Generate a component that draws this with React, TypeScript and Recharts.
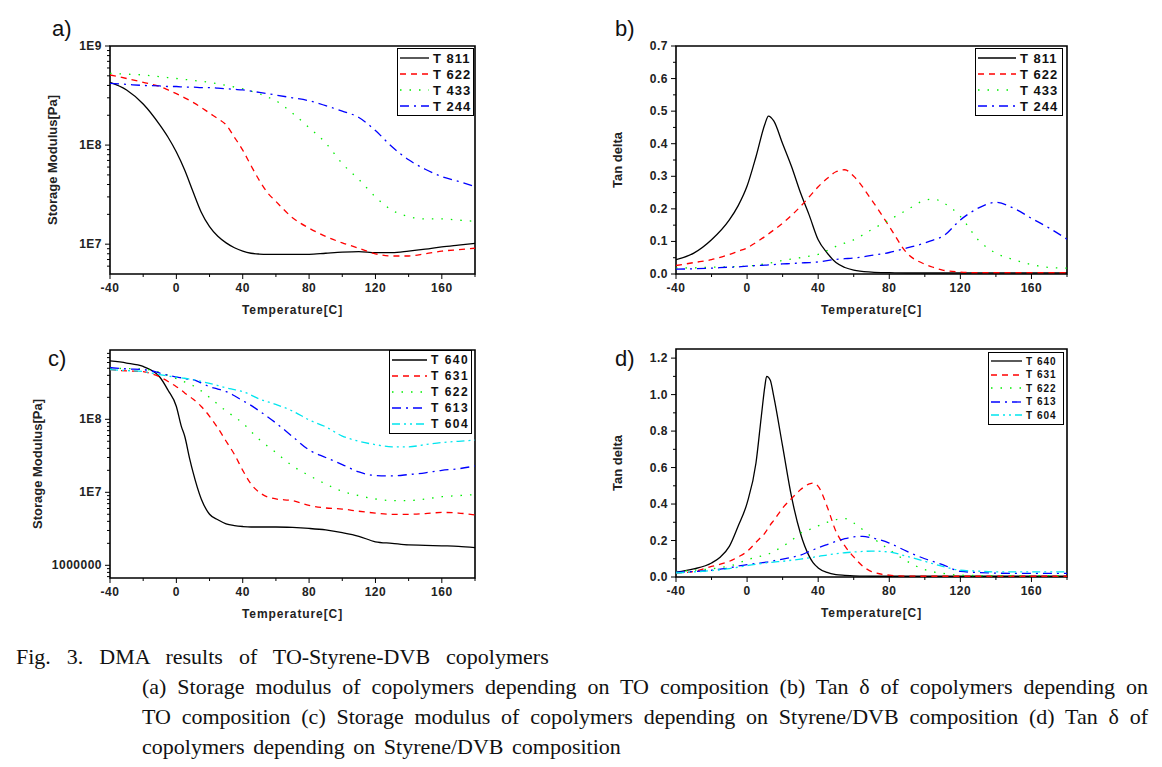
import React from 'react';
import { LineChart, Line, XAxis, YAxis, ReferenceArea } from 'recharts';

// ---------- data: (a) storage modulus vs TO composition ----------
const tempsA = [-40, -30, -20, -10, -5, 0, 5, 10, 15, 20, 25, 30, 35, 40, 45, 50, 55, 60, 70, 80, 90, 100, 110, 120, 130, 140, 150, 160, 170, 180];
const modA811 = [4.3e8, 3.6e8, 2.6e8, 1.6e8, 1.2e8, 8.5e7, 5.6e7, 3.4e7, 2.1e7, 1.5e7, 1.2e7, 1.03e7, 9.2e6, 8.5e6, 8.1e6, 7.95e6, 7.9e6, 7.9e6, 7.9e6, 7.9e6, 8.1e6, 8.3e6, 8.4e6, 8.2e6, 8.2e6, 8.5e6, 8.9e6, 9.4e6, 9.8e6, 1.02e7];
const modA622 = [5.1e8, 4.7e8, 4.3e8, 3.9e8, 3.6e8, 3.3e8, 3.0e8, 2.7e8, 2.4e8, 2.1e8, 1.85e8, 1.6e8, 1.2e8, 8.9e7, 6.2e7, 4.4e7, 3.3e7, 2.7e7, 1.85e7, 1.45e7, 1.2e7, 1.03e7, 9.1e6, 8.0e6, 7.6e6, 7.6e6, 8.0e6, 8.5e6, 8.8e6, 9.1e6];
const modA433 = [5.3e8, 5.2e8, 5.1e8, 4.9e8, 4.8e8, 4.7e8, 4.6e8, 4.5e8, 4.4e8, 4.3e8, 4.15e8, 4.0e8, 3.85e8, 3.7e8, 3.5e8, 3.3e8, 3.05e8, 2.8e8, 2.1e8, 1.5e8, 1.05e8, 6.5e7, 4.5e7, 3.0e7, 2.2e7, 1.9e7, 1.8e7, 1.8e7, 1.75e7, 1.7e7];
const modA244 = [4.2e8, 4.1e8, 4.0e8, 3.95e8, 3.9e8, 3.9e8, 3.85e8, 3.85e8, 3.8e8, 3.8e8, 3.75e8, 3.7e8, 3.65e8, 3.6e8, 3.5e8, 3.4e8, 3.3e8, 3.2e8, 3.0e8, 2.8e8, 2.5e8, 2.2e8, 1.9e8, 1.4e8, 9.6e7, 7.1e7, 5.7e7, 4.8e7, 4.3e7, 3.8e7];

// ---------- data: (b) tan delta vs TO composition ----------
const tempsB = [-40, -30, -20, -10, -5, 0, 5, 10, 12, 15, 20, 25, 30, 35, 40, 45, 50, 55, 60, 70, 80, 90, 100, 105, 110, 120, 130, 140, 150, 160, 170, 180];
const tanB811 = [0.044, 0.064, 0.105, 0.166, 0.21, 0.27, 0.36, 0.46, 0.485, 0.47, 0.4, 0.33, 0.25, 0.18, 0.105, 0.065, 0.035, 0.02, 0.012, 0.006, 0.004, 0.003, 0.003, 0.003, 0.003, 0.003, 0.003, 0.003, 0.003, 0.003, 0.003, 0.003];
const tanB622 = [0.026, 0.035, 0.044, 0.06, 0.07, 0.08, 0.097, 0.115, 0.123, 0.135, 0.156, 0.18, 0.207, 0.237, 0.268, 0.293, 0.314, 0.32, 0.3, 0.228, 0.146, 0.064, 0.03, 0.02, 0.012, 0.006, 0.004, 0.004, 0.004, 0.004, 0.004, 0.004];
const tanB433 = [0.018, 0.019, 0.021, 0.022, 0.023, 0.024, 0.027, 0.031, 0.033, 0.036, 0.042, 0.046, 0.05, 0.055, 0.06, 0.072, 0.085, 0.095, 0.105, 0.136, 0.166, 0.197, 0.226, 0.23, 0.22, 0.177, 0.105, 0.064, 0.044, 0.029, 0.02, 0.018];
const tanB244 = [0.015, 0.016, 0.018, 0.021, 0.022, 0.024, 0.026, 0.027, 0.028, 0.029, 0.031, 0.032, 0.034, 0.035, 0.037, 0.041, 0.045, 0.047, 0.049, 0.057, 0.066, 0.08, 0.095, 0.105, 0.115, 0.166, 0.202, 0.22, 0.202, 0.171, 0.141, 0.107];

// ---------- data: (c) storage modulus vs Styrene/DVB ----------
const tempsC = [-40, -30, -20, -15, -10, -5, 0, 3, 5, 8, 10, 15, 20, 25, 30, 35, 40, 45, 50, 60, 70, 80, 90, 100, 110, 120, 130, 140, 150, 160, 170, 180];
const modC640 = [6.3e8, 5.9e8, 5.3e8, 4.7e8, 3.8e8, 2.5e8, 1.5e8, 8e7, 5.9e7, 2.9e7, 1.9e7, 8.1e6, 5e6, 4.2e6, 3.7e6, 3.5e6, 3.4e6, 3.35e6, 3.35e6, 3.35e6, 3.3e6, 3.2e6, 3.05e6, 2.8e6, 2.5e6, 2.1e6, 2.0e6, 1.9e6, 1.88e6, 1.85e6, 1.82e6, 1.75e6];
const modC631 = [4.8e8, 4.6e8, 4.5e8, 4.2e8, 3.8e8, 3.3e8, 2.8e8, 2.5e8, 2.3e8, 2.05e8, 1.9e8, 1.5e8, 1.1e8, 7.6e7, 5e7, 3.3e7, 2e7, 1.3e7, 1e7, 8.1e6, 7.7e6, 6.6e6, 6.1e6, 5.9e6, 5.5e6, 5.2e6, 5.0e6, 5.0e6, 5.1e6, 5.3e6, 5.2e6, 4.9e6];
const modC622 = [5e8, 4.95e8, 4.9e8, 4.7e8, 4.4e8, 4.0e8, 3.6e8, 3.4e8, 3.25e8, 3.0e8, 2.9e8, 2.45e8, 2e8, 1.6e8, 1.3e8, 1.08e8, 8.9e7, 6.8e7, 5.3e7, 3.5e7, 2.3e7, 1.7e7, 1.3e7, 1.03e7, 9e6, 8.1e6, 7.7e6, 7.7e6, 8.1e6, 8.7e6, 9.0e6, 9.3e6];
const modC613 = [5.1e8, 4.9e8, 4.8e8, 4.6e8, 4.3e8, 4.0e8, 3.8e8, 3.7e8, 3.6e8, 3.55e8, 3.5e8, 3.15e8, 2.8e8, 2.6e8, 2.4e8, 2.1e8, 1.8e8, 1.55e8, 1.3e8, 8.9e7, 5.8e7, 3.8e7, 3e7, 2.4e7, 1.9e7, 1.7e7, 1.68e7, 1.75e7, 1.85e7, 2e7, 2.1e7, 2.3e7];
const modC604 = [4.8e8, 4.65e8, 4.5e8, 4.3e8, 4.1e8, 3.9e8, 3.8e8, 3.7e8, 3.65e8, 3.55e8, 3.5e8, 3.3e8, 3.1e8, 2.9e8, 2.7e8, 2.55e8, 2.4e8, 2.15e8, 1.9e8, 1.6e8, 1.3e8, 9.8e7, 7.9e7, 5.9e7, 5e7, 4.5e7, 4.2e7, 4.2e7, 4.5e7, 4.8e7, 5e7, 5.2e7];

// ---------- data: (d) tan delta vs Styrene/DVB ----------
const tempsD = [-40, -30, -20, -15, -10, -5, 0, 5, 8, 10, 11, 13, 15, 20, 25, 30, 35, 37, 40, 45, 50, 55, 60, 65, 70, 80, 90, 100, 110, 120, 130, 140, 150, 160, 170, 180];
const tanD640 = [0.026, 0.044, 0.077, 0.11, 0.168, 0.28, 0.405, 0.625, 0.88, 1.045, 1.1, 1.08, 0.99, 0.716, 0.44, 0.24, 0.113, 0.08, 0.05, 0.025, 0.013, 0.009, 0.006, 0.005, 0.004, 0.004, 0.004, 0.004, 0.004, 0.004, 0.004, 0.004, 0.004, 0.004, 0.004, 0.004];
const tanD631 = [0.022, 0.03, 0.058, 0.07, 0.086, 0.11, 0.14, 0.19, 0.22, 0.24, 0.255, 0.285, 0.31, 0.378, 0.43, 0.478, 0.51, 0.515, 0.497, 0.387, 0.25, 0.17, 0.11, 0.06, 0.03, 0.01, 0.005, 0.004, 0.004, 0.004, 0.004, 0.004, 0.004, 0.004, 0.004, 0.004];
const tanD622 = [0.03, 0.037, 0.045, 0.052, 0.06, 0.075, 0.095, 0.107, 0.115, 0.12, 0.122, 0.13, 0.14, 0.168, 0.2, 0.24, 0.26, 0.265, 0.28, 0.3, 0.315, 0.32, 0.296, 0.26, 0.22, 0.15, 0.086, 0.04, 0.02, 0.01, 0.008, 0.008, 0.008, 0.008, 0.008, 0.008];
const tanD613 = [0.026, 0.03, 0.037, 0.043, 0.05, 0.06, 0.068, 0.074, 0.078, 0.08, 0.082, 0.085, 0.089, 0.098, 0.108, 0.12, 0.14, 0.148, 0.16, 0.178, 0.195, 0.21, 0.22, 0.223, 0.215, 0.186, 0.14, 0.1, 0.068, 0.031, 0.025, 0.021, 0.02, 0.02, 0.02, 0.02];
const tanD604 = [0.022, 0.028, 0.035, 0.04, 0.046, 0.054, 0.062, 0.07, 0.074, 0.077, 0.078, 0.08, 0.082, 0.086, 0.092, 0.098, 0.105, 0.108, 0.113, 0.12, 0.128, 0.133, 0.137, 0.14, 0.142, 0.137, 0.113, 0.086, 0.058, 0.037, 0.032, 0.028, 0.028, 0.028, 0.028, 0.028];

// ---------- tick lists ----------
const tempTicks = [-40, -20, 0, 20, 40, 60, 80, 100, 120, 140, 160, 180];
const tempLabels = [-40, 0, 40, 80, 120, 160];
const logTicksA = [6e6, 7e6, 8e6, 9e6, 1e7, 2e7, 3e7, 4e7, 5e7, 6e7, 7e7, 8e7, 9e7, 1e8, 2e8, 3e8, 4e8, 5e8, 6e8, 7e8, 8e8, 9e8, 1e9];
const logLabelsA = [1e7, 1e8, 1e9];
const logTicksC = [7e5, 8e5, 9e5, 1e6, 2e6, 3e6, 4e6, 5e6, 6e6, 7e6, 8e6, 9e6, 1e7, 2e7, 3e7, 4e7, 5e7, 6e7, 7e7, 8e7, 9e7, 1e8, 2e8, 3e8, 4e8, 5e8, 6e8, 7e8, 8e8];
const logLabelsC = [1e6, 1e7, 1e8];
const tanTicksB = [0, 0.05, 0.1, 0.15, 0.2, 0.25, 0.3, 0.35, 0.4, 0.45, 0.5, 0.55, 0.6, 0.65, 0.7];
const tanLabelsB = [0, 0.1, 0.2, 0.3, 0.4, 0.5, 0.6, 0.7];
const tanTicksD = [0, 0.1, 0.2, 0.3, 0.4, 0.5, 0.6, 0.7, 0.8, 0.9, 1.0, 1.1, 1.2];
const tanLabelsD = [0, 0.2, 0.4, 0.6, 0.8, 1.0, 1.2];

const captionTitle = 'Fig. 3. DMA results of TO-Styrene-DVB copolymers';
const captionBody = [
    '(a) Storage modulus of copolymers depending on TO composition (b) Tan δ of copolymers depending on',
    'TO composition (c) Storage modulus of copolymers depending on Styrene/DVB composition (d) Tan δ of',
    'copolymers depending on Styrene/DVB composition',
];

// line styles
const BLACK = { color: '#000000', dash: undefined };
const RED = { color: '#ff0000', dash: '6 5' };
const GREEN = { color: '#00ee00', dash: '1.5 8' };
const BLUE = { color: '#0000ff', dash: '9 5 2 5' };
const CYAN = { color: '#00e5ee', dash: '8 4 2 4 2 4' };

type Series = { name: string; values: number[]; color: string; dash?: string };

const buildRows = (temps: number[], series: Series[]) =>
    temps.map((t, i) => {
        const row: Record<string, number> = { t };
        series.forEach((s) => { row[s.name] = s.values[i]; });
        return row;
    });

const isIn = (v: number, list: number[]) => list.some((l) => Math.abs(l - v) < Math.abs(l) * 1e-6 + 1e-9);

const sansBold = { fontFamily: '"Liberation Sans", Arial, sans-serif', fontWeight: 700 };

const XTick = ({ x, y, payload }: any) => {
    const v = payload.value;
    const major = isIn(v, tempLabels);
    return (
        <g>
            <line x1={x} x2={x} y1={y} y2={y + (major ? 5 : 3)} stroke="#000" strokeWidth={1} />
            {major && (
                <text x={x} y={y + 18} textAnchor="middle" fontSize={12} letterSpacing={0.5} fill="#222" style={sansBold}>
                    {v}
                </text>
            )}
        </g>
    );
};

const makeYTick = (labels: number[], fmt: (v: number) => string) => ({ x, y, payload }: any) => {
    const v = payload.value;
    const major = isIn(v, labels);
    return (
        <g>
            <line x1={x} x2={x - (major ? 5 : 3)} y1={y} y2={y} stroke="#000" strokeWidth={1} />
            {major && (
                <text x={x - 8} y={y + 4} textAnchor="end" fontSize={12} letterSpacing={0.5} fill="#222" style={sansBold}>
                    {fmt(v)}
                </text>
            )}
        </g>
    );
};

const fmtLog = (v: number) => (v >= 1e7 ? `1E${Math.round(Math.log10(v))}` : String(Math.round(v)));
const fmtTan = (v: number) => v.toFixed(1);

interface PanelProps {
    letter: string;
    left: number;
    top: number;
    width: number;
    height: number;
    marginTop: number;
    marginRight: number;
    yAxisWidth: number;
    xAxisHeight: number;
    temps: number[];
    series: Series[];
    yScale: 'log' | 'linear';
    yDomain: [number, number];
    yTicks: number[];
    yLabels: number[];
    yFmt: (v: number) => string;
    yTitle: string;
    yTitleX: number;
    letterPos: [number, number];
    legend: { left: number; top: number; width: number; rowH: number; padTop: number; sample: number; fontSize: number; spacing: number };
}

const Panel: React.FC<PanelProps> = (p) => {
    const data = buildRows(p.temps, p.series);
    const YTick = makeYTick(p.yLabels, p.yFmt);
    return (
        <>
            <div style={{ position: 'absolute', left: p.left, top: p.top }}>
                <LineChart
                    width={p.width}
                    height={p.height}
                    data={data}
                    margin={{ top: p.marginTop, right: p.marginRight, left: 0, bottom: 0 }}
                >
                    <XAxis
                        dataKey="t"
                        type="number"
                        domain={[-40, 180]}
                        ticks={tempTicks}
                        interval={0}
                        height={p.xAxisHeight}
                        axisLine={false}
                        tickLine={false}
                        tickSize={0}
                        tickMargin={0}
                        tick={<XTick />}
                        allowDataOverflow
                        label={{
                            content: ({ viewBox }: any) => (
                                <text
                                    x={viewBox.x + viewBox.width / 2}
                                    y={viewBox.y + 40}
                                    textAnchor="middle"
                                    fontSize={12}
                                    letterSpacing={0.9}
                                    fill="#222"
                                    style={sansBold}
                                >
                                    Temperature[C]
                                </text>
                            ),
                        }}
                    />
                    <YAxis
                        type="number"
                        scale={p.yScale}
                        domain={p.yDomain}
                        ticks={p.yTicks}
                        interval={0}
                        width={p.yAxisWidth}
                        axisLine={false}
                        tickLine={false}
                        tickSize={0}
                        tickMargin={0}
                        tick={<YTick />}
                        allowDataOverflow
                        label={{
                            content: ({ viewBox }: any) => {
                                const cy = viewBox.y + viewBox.height / 2;
                                return (
                                    <text
                                        x={p.yTitleX}
                                        y={cy}
                                        transform={`rotate(-90, ${p.yTitleX}, ${cy})`}
                                        textAnchor="middle"
                                        dominantBaseline="central"
                                        fontSize={13}
                                        fill="#222"
                                        style={sansBold}
                                    >
                                        {p.yTitle}
                                    </text>
                                );
                            },
                        }}
                    />
                    <ReferenceArea
                        x1={-40}
                        x2={180}
                        y1={p.yDomain[0]}
                        y2={p.yDomain[1]}
                        fill="none"
                        stroke="#000"
                        strokeWidth={1.6}
                        ifOverflow="visible"
                    />
                    {p.series.map((s) => (
                        <Line
                            key={s.name}
                            dataKey={s.name}
                            type="monotone"
                            stroke={s.color}
                            strokeWidth={1.3}
                            strokeDasharray={s.dash}
                            dot={false}
                            isAnimationActive={false}
                        />
                    ))}
                </LineChart>
            </div>
            <div
                style={{
                    position: 'absolute',
                    left: p.letterPos[0],
                    top: p.letterPos[1],
                    fontFamily: '"Liberation Sans", Arial, sans-serif',
                    fontSize: 22,
                    color: '#111',
                    lineHeight: 1,
                }}
            >
                {p.letter}
            </div>
            <div
                style={{
                    position: 'absolute',
                    left: p.legend.left,
                    top: p.legend.top,
                    width: p.legend.width,
                    boxSizing: 'border-box',
                    border: '1.5px solid #000',
                    background: '#fff',
                    paddingTop: p.legend.padTop,
                    paddingBottom: p.legend.padTop,
                }}
            >
                {p.series.map((s) => (
                    <div key={s.name} style={{ display: 'flex', alignItems: 'center', height: p.legend.rowH }}>
                        <svg width={p.legend.sample + 3} height={4} style={{ display: 'block' }}>
                            <line x1={2} x2={p.legend.sample + 2} y1={2} y2={2} stroke={s.color} strokeWidth={1.3} strokeDasharray={s.dash} />
                        </svg>
                        <span
                            style={{
                                ...sansBold,
                                fontSize: p.legend.fontSize,
                                letterSpacing: p.legend.spacing,
                                marginLeft: 3,
                                color: '#111',
                                whiteSpace: 'nowrap',
                            }}
                        >
                            {s.name}
                        </span>
                    </div>
                ))}
            </div>
        </>
    );
};

const seriesA: Series[] = [
    { name: 'T 811', values: modA811, ...BLACK },
    { name: 'T 622', values: modA622, ...RED },
    { name: 'T 433', values: modA433, ...GREEN },
    { name: 'T 244', values: modA244, ...BLUE },
];
const seriesB: Series[] = [
    { name: 'T 811', values: tanB811, ...BLACK },
    { name: 'T 622', values: tanB622, ...RED },
    { name: 'T 433', values: tanB433, ...GREEN },
    { name: 'T 244', values: tanB244, ...BLUE },
];
const seriesC: Series[] = [
    { name: 'T 640', values: modC640, ...BLACK },
    { name: 'T 631', values: modC631, ...RED },
    { name: 'T 622', values: modC622, ...GREEN },
    { name: 'T 613', values: modC613, ...BLUE },
    { name: 'T 604', values: modC604, ...CYAN },
];
const seriesD: Series[] = [
    { name: 'T 640', values: tanD640, ...BLACK },
    { name: 'T 631', values: tanD631, ...RED },
    { name: 'T 622', values: tanD622, ...GREEN },
    { name: 'T 613', values: tanD613, ...BLUE },
    { name: 'T 604', values: tanD604, ...CYAN },
];

const serif = '"Liberation Serif", "Times New Roman", serif';

export default function App() {
    return (
        <div style={{ position: 'absolute', left: 0, top: 0, width: 1162, height: 767, background: '#fff', overflow: 'hidden' }}>
            <Panel
                letter="a)"
                left={0}
                top={0}
                width={490}
                height={330}
                marginTop={46}
                marginRight={15}
                yAxisWidth={110}
                xAxisHeight={56}
                temps={tempsA}
                series={seriesA}
                yScale="log"
                yDomain={[5e6, 1e9]}
                yTicks={logTicksA}
                yLabels={logLabelsA}
                yFmt={fmtLog}
                yTitle="Storage Modulus[Pa]"
                yTitleX={52}
                letterPos={[52, 18]}
                legend={{ left: 397, top: 48, width: 77, rowH: 16, padTop: 1, sample: 29, fontSize: 13, spacing: 1 }}
            />
            <Panel
                letter="b)"
                left={580}
                top={0}
                width={500}
                height={330}
                marginTop={46}
                marginRight={13}
                yAxisWidth={96}
                xAxisHeight={56}
                temps={tempsB}
                series={seriesB}
                yScale="linear"
                yDomain={[0, 0.7]}
                yTicks={tanTicksB}
                yLabels={tanLabelsB}
                yFmt={fmtTan}
                yTitle="Tan delta"
                yTitleX={37}
                letterPos={[615, 18]}
                legend={{ left: 975, top: 48, width: 88, rowH: 16, padTop: 1, sample: 38, fontSize: 13, spacing: 1 }}
            />
            <Panel
                letter="c)"
                left={0}
                top={330}
                width={490}
                height={300}
                marginTop={20}
                marginRight={15}
                yAxisWidth={110}
                xAxisHeight={52}
                temps={tempsC}
                series={seriesC}
                yScale="log"
                yDomain={[6.7e5, 8.9e8]}
                yTicks={logTicksC}
                yLabels={logLabelsC}
                yFmt={fmtLog}
                yTitle="Storage Modulus[Pa]"
                yTitleX={37}
                letterPos={[48, 348]}
                legend={{ left: 389, top: 350, width: 83, rowH: 16, padTop: 1, sample: 35, fontSize: 12, spacing: 1.5 }}
            />
            <Panel
                letter="d)"
                left={580}
                top={330}
                width={500}
                height={300}
                marginTop={19}
                marginRight={13}
                yAxisWidth={96}
                xAxisHeight={53}
                temps={tempsD}
                series={seriesD}
                yScale="linear"
                yDomain={[0, 1.25]}
                yTicks={tanTicksD}
                yLabels={tanLabelsD}
                yFmt={fmtTan}
                yTitle="Tan delta"
                yTitleX={37}
                letterPos={[615, 348]}
                legend={{ left: 988, top: 352, width: 76, rowH: 13.5, padTop: 1.5, sample: 31, fontSize: 10, spacing: 1 }}
            />
            <div style={{ position: 'absolute', left: 0, top: 642, width: 1162, fontFamily: serif, fontSize: 22, lineHeight: '30px', color: '#111' }}>
                <div style={{ marginLeft: 16, wordSpacing: 10.5, whiteSpace: 'nowrap' }}>{captionTitle}</div>
                {captionBody.map((line, i) => (
                    <div
                        key={i}
                        style={{
                            marginLeft: 142,
                            width: 1006,
                            whiteSpace: 'nowrap',
                            textAlign: i < captionBody.length - 1 ? 'justify' : 'left',
                            textAlignLast: i < captionBody.length - 1 ? 'justify' : 'left',
                            wordSpacing: i < captionBody.length - 1 ? 0 : 3,
                        }}
                    >
                        {line}
                    </div>
                ))}
            </div>
        </div>
    );
}
